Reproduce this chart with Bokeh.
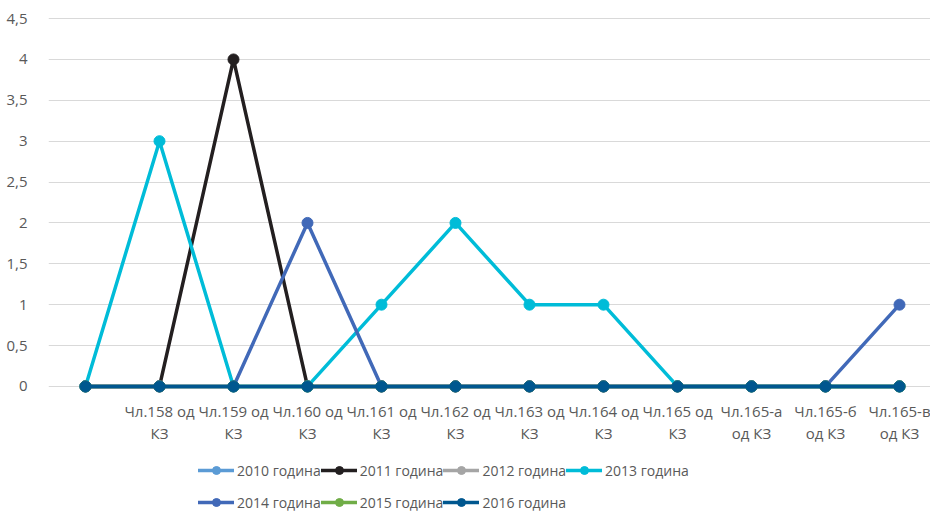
from bokeh.plotting import figure
from bokeh.models import Range1d, FixedTicker, Legend, LegendItem
from bokeh.embed import file_html
from bokeh.resources import INLINE
from bokeh.core.properties import value

categories = ["", "Чл.158 од\nКЗ", "Чл.159 од\nКЗ", "Чл.160 од\nКЗ", "Чл.161 од\nКЗ",
              "Чл.162 од\nКЗ", "Чл.163 од\nКЗ", "Чл.164 од\nКЗ", "Чл.165 од\nКЗ",
              "Чл.165-а\nод КЗ", "Чл.165-б\nод КЗ", "Чл.165-в\nод КЗ"]

series_names = ["2010 година", "2011 година", "2012 година", "2013 година",
                "2014 година", "2015 година", "2016 година"]
v2010 = [0, 0, 0, 0, 0, 0, 0, 0, 0, 0, 0, 0]
v2011 = [0, 0, 4, 0, 0, 0, 0, 0, 0, 0, 0, 0]
v2012 = [0, 0, 0, 0, 0, 0, 0, 0, 0, 0, 0, 0]
v2013 = [0, 3, 0, 0, 1, 2, 1, 1, 0, 0, 0, 0]
v2014 = [0, 0, 0, 2, 0, 0, 0, 0, 0, 0, 0, 1]
v2015 = [0, 0, 0, 0, 0, 0, 0, 0, 0, 0, 0, 0]
v2016 = [0, 0, 0, 0, 0, 0, 0, 0, 0, 0, 0, 0]
series_values = [v2010, v2011, v2012, v2013, v2014, v2015, v2016]
colors = ["#5B9BD5", "#231F20", "#A5A5A5", "#00BCD8", "#4169B8", "#70AD47", "#00578F"]

y_ticks = [0, 0.5, 1, 1.5, 2, 2.5, 3, 3.5, 4, 4.5]
y_tick_labels = ["0", "0,5", "1", "1,5", "2", "2,5", "3", "3,5", "4", "4,5"]

x = list(range(len(categories)))

FONT = "Open Sans"
TXT = "#595959"

p = figure(frame_width=882, frame_height=498, output_backend="svg", toolbar_location=None,
           x_range=Range1d(-0.5, 11.419), y_range=Range1d(-1.5425, 4.55),
           min_border_left=48, min_border_right=0, min_border_top=14, min_border_bottom=0)
p.outline_line_color = None
p.background_fill_color = "white"
p.border_fill_color = "white"

p.xgrid.visible = False
p.ygrid.ticker = FixedTicker(ticks=y_ticks)
p.ygrid.grid_line_color = "#D9D9D9"
p.ygrid.grid_line_width = 1

p.yaxis.ticker = FixedTicker(ticks=y_ticks)
p.yaxis.major_label_overrides = {t: l for t, l in zip(y_ticks, y_tick_labels)}
p.yaxis.axis_line_color = None
p.yaxis.major_tick_line_color = None
p.yaxis.minor_tick_line_color = None
p.yaxis.major_label_standoff = 15
p.yaxis.major_label_text_font = FONT
p.yaxis.major_label_text_font_size = "15px"
p.yaxis.major_label_text_color = TXT

p.xaxis.visible = False

# category labels under the zero line
p.text(x=x, y=0, text=categories, y_offset=15, text_align="center", text_baseline="top",
       text_font=value(FONT), text_font_size="15px", text_color=TXT, text_line_height=1.1)

items = []
for name, vals, col in zip(series_names, series_values, colors):
    l = p.line(x, vals, line_color=col, line_width=3.5, line_join="round", line_cap="round")
    s = p.scatter(x, vals, marker="circle", size=11, fill_color=col, line_color=col)
    items.append(LegendItem(label=name, renderers=[l, s]))

def make_legend(its, loc):
    lg = Legend(items=its, orientation="horizontal", location=loc,
                label_text_font=FONT, label_text_font_size="14px", label_text_color=TXT,
                glyph_width=36, glyph_height=20, label_standoff=3, spacing=0,
                label_width=81, label_height=20,
                border_line_color=None, background_fill_alpha=0, margin=0, padding=0)
    lg.label_text_baseline = "middle"
    return lg

p.add_layout(make_legend(items[:4], (150, 32)), "center")
p.add_layout(make_legend(items[4:], (150, 0)), "center")

open("out.html", "w").write(file_html(p, INLINE))
